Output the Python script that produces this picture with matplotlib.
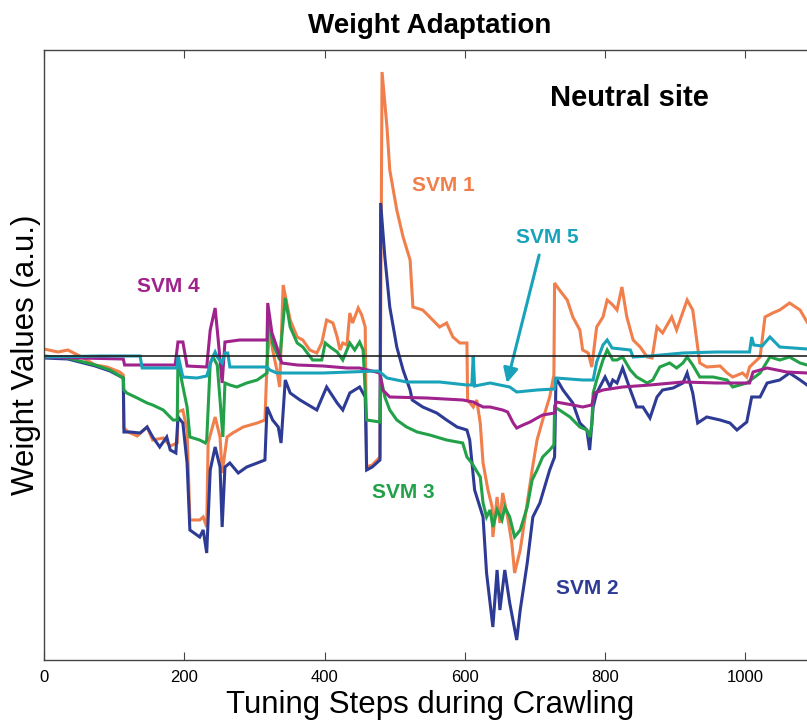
import matplotlib
matplotlib.use("Agg")
import matplotlib.pyplot as plt
from matplotlib import font_manager

# pick a Helvetica-like family (narrow one for the tick labels if present)
names = {f.name for f in font_manager.fontManager.ttflist}
regular = "Liberation Sans" if "Liberation Sans" in names else "DejaVu Sans"
narrow = "Liberation Sans Narrow" if "Liberation Sans Narrow" in names else regular
plt.rcParams["font.family"] = [regular, "DejaVu Sans"]

# Data (tuning step, weight value in a.u.)
svm1_x = [0, 20, 34, 51, 73, 90, 108, 113, 114, 120, 133, 147, 155, 170, 180, 190, 191, 198, 204, 208,
          222, 227, 232, 234, 244, 251, 254, 261, 269, 284, 304, 315, 318, 322, 326, 332, 336, 341, 351, 361,
          369, 379, 389, 396, 403, 412, 418, 422, 426, 432, 436, 440, 448, 453, 458, 460, 468, 479, 482, 489,
          493, 503, 512, 522, 526, 540, 550, 564, 574, 583, 593, 603, 604, 612, 617, 622, 626, 633, 639, 640,
          646, 650, 654, 661, 667, 671, 679, 689, 696, 703, 711, 721, 727, 728, 735, 746, 754, 764, 768, 776,
          781, 788, 797, 803, 811, 817, 824, 831, 840, 850, 860, 867, 874, 882, 895, 902, 917, 925, 935, 945,
          964, 974, 982, 996, 1002, 1006, 1021, 1028, 1039, 1049, 1063, 1078, 1088]
svm1_y = [0.07, 0.04, 0.06, 0.00, -0.09, -0.11, -0.16, -0.19, -0.72, -0.76, -0.80, -0.71, -0.84, -0.82, -0.90, -0.87, -0.56, -0.54, -0.74, -1.64,
          -1.64, -1.61, -1.71, -0.87, -0.61, -0.81, -1.17, -0.81, -0.77, -0.71, -0.67, -0.64, -0.07, 0.26, 0.06, -0.14, -0.31, 0.71, 0.36, 0.19,
          0.16, 0.06, 0.03, 0.13, 0.36, 0.33, 0.19, 0.06, 0.13, 0.11, 0.43, 0.33, 0.48, 0.41, 0.29, -1.11, -1.09, -1.01, 2.84, 2.29,
          1.86, 1.46, 1.19, 0.96, 0.49, 0.46, 0.39, 0.29, 0.33, 0.19, 0.13, 0.13, -0.44, -0.51, -0.44, -0.67, -1.07, -1.34, -1.51, -1.81,
          -1.41, -1.67, -1.37, -1.61, -1.87, -2.17, -1.94, -1.47, -1.14, -0.84, -0.64, -0.41, -0.19, 0.73, 0.66, 0.56, 0.39, 0.26, 0.06, 0.03,
          -0.11, 0.29, 0.39, 0.56, 0.51, 0.46, 0.69, 0.39, 0.16, 0.09, -0.01, -0.02, 0.29, 0.23, 0.39, 0.26, 0.56, 0.46, -0.07, -0.11,
          -0.10, -0.17, -0.21, -0.17, -0.21, -0.11, -0.01, 0.39, 0.43, 0.46, 0.53, 0.46, 0.34]

svm2_x = [0, 34, 73, 94, 113, 114, 123, 137, 147, 155, 165, 175, 180, 188, 191, 198, 204, 208, 222, 227,
          232, 237, 244, 251, 254, 258, 265, 277, 289, 304, 315, 318, 326, 334, 338, 344, 351, 365, 389, 403,
          418, 426, 436, 450, 458, 460, 468, 479, 480, 486, 493, 503, 512, 522, 525, 540, 560, 574, 589, 603,
          607, 614, 626, 631, 640, 646, 650, 657, 664, 674, 679, 689, 697, 707, 721, 728, 730, 740, 754, 764,
          774, 778, 783, 788, 800, 807, 811, 817, 825, 836, 845, 854, 864, 874, 882, 897, 911, 917, 925, 932,
          945, 964, 978, 988, 1002, 1009, 1021, 1031, 1049, 1063, 1078, 1088]
svm2_y = [-0.02, -0.03, -0.10, -0.15, -0.22, -0.76, -0.76, -0.77, -0.71, -0.81, -0.91, -0.81, -0.94, -0.97, -0.61, -0.67, -1.07, -1.74, -1.81, -1.74,
          -1.97, -1.14, -0.91, -1.11, -1.71, -1.11, -1.07, -1.17, -1.11, -1.07, -1.04, -0.51, -0.64, -0.71, -0.87, -0.24, -0.37, -0.44, -0.54, -0.31,
          -0.47, -0.54, -0.37, -0.31, -0.41, -1.14, -1.11, -1.04, 1.53, 0.99, 0.49, 0.09, -0.14, -0.34, -0.44, -0.51, -0.57, -0.64, -0.71, -0.74,
          -0.84, -1.34, -1.61, -2.17, -2.71, -2.14, -2.54, -2.14, -2.47, -2.84, -2.54, -2.07, -1.61, -1.47, -1.14, -1.01, -0.22, -0.34, -0.47, -0.67,
          -0.74, -0.94, -0.51, -0.37, -0.21, -0.31, -0.24, -0.27, -0.12, -0.34, -0.51, -0.51, -0.62, -0.41, -0.34, -0.32, -0.27, -0.17, -0.37, -0.67,
          -0.61, -0.64, -0.67, -0.74, -0.66, -0.41, -0.41, -0.27, -0.24, -0.17, -0.24, -0.29]

svm3_x = [0, 34, 73, 94, 113, 114, 118, 133, 147, 155, 170, 184, 190, 191, 197, 204, 208, 222, 230, 232,
          237, 241, 247, 251, 255, 258, 265, 275, 289, 304, 318, 319, 326, 336, 344, 351, 361, 369, 383, 396,
          401, 408, 418, 426, 436, 443, 450, 455, 460, 479, 480, 486, 493, 503, 517, 532, 550, 574, 597, 603,
          610, 622, 626, 631, 636, 640, 646, 653, 657, 664, 671, 679, 689, 696, 703, 711, 721, 727, 728, 735,
          750, 764, 774, 778, 781, 783, 788, 797, 803, 811, 817, 825, 836, 845, 860, 868, 878, 892, 902, 911,
          917, 925, 935, 954, 974, 982, 1002, 1021, 1035, 1049, 1063, 1078, 1088]
svm3_y = [0.00, -0.02, -0.09, -0.14, -0.22, -0.34, -0.37, -0.42, -0.47, -0.49, -0.54, -0.64, -0.64, -0.02, -0.27, -0.51, -0.81, -0.84, -0.87, -0.84,
          -0.07, -0.01, -0.09, -0.44, -0.81, -0.27, -0.29, -0.31, -0.27, -0.24, -0.17, 0.43, 0.13, -0.04, 0.58, 0.29, 0.13, 0.09, -0.04, -0.04,
          0.13, 0.09, 0.04, -0.04, 0.13, 0.06, 0.14, 0.06, -0.64, -0.66, -0.21, -0.41, -0.54, -0.64, -0.71, -0.76, -0.79, -0.84, -0.87, -1.01,
          -1.07, -1.21, -1.47, -1.61, -1.54, -1.71, -1.54, -1.64, -1.51, -1.61, -1.81, -1.74, -1.51, -1.24, -1.14, -1.01, -0.94, -0.89, -0.51, -0.54,
          -0.61, -0.71, -0.74, -0.81, -0.69, -0.37, -0.24, -0.04, 0.06, -0.04, -0.04, -0.01, -0.14, -0.21, -0.27, -0.24, -0.11, -0.07, -0.12, -0.07,
          -0.01, -0.09, -0.21, -0.21, -0.24, -0.31, -0.27, -0.17, -0.01, -0.04, -0.01, -0.07, -0.09]

svm4_x = [0, 51, 113, 115, 187, 191, 198, 204, 232, 237, 244, 248, 254, 258, 279, 318, 319, 325, 332, 339,
          361, 398, 432, 450, 479, 483, 493, 546, 597, 612, 626, 636, 654, 661, 669, 674, 683, 693, 703, 711,
          728, 730, 754, 768, 781, 785, 797, 825, 864, 911, 959, 1006, 1011, 1031, 1059, 1088]
svm4_y = [-0.01, -0.02, -0.03, -0.09, -0.09, 0.14, 0.14, -0.10, -0.11, 0.26, 0.48, 0.19, -0.27, 0.14, 0.16, 0.16, 0.53, 0.23, 0.09, -0.07,
          -0.09, -0.10, -0.12, -0.12, -0.17, -0.34, -0.41, -0.42, -0.44, -0.46, -0.51, -0.51, -0.54, -0.56, -0.67, -0.72, -0.69, -0.66, -0.62, -0.59,
          -0.57, -0.46, -0.49, -0.51, -0.49, -0.37, -0.34, -0.31, -0.29, -0.26, -0.27, -0.27, -0.16, -0.12, -0.16, -0.17]

svm5_x = [0, 80, 137, 140, 190, 191, 198, 218, 232, 239, 244, 248, 254, 258, 262, 265, 318, 322, 332, 398,
          436, 475, 479, 489, 517, 564, 603, 610, 612, 614, 636, 664, 674, 703, 728, 730, 768, 783, 788, 797,
          803, 810, 836, 840, 864, 911, 959, 1006, 1009, 1012, 1024, 1035, 1049, 1088]
svm5_y = [-0.01, 0.00, 0.00, -0.12, -0.12, 0.01, -0.21, -0.22, -0.20, -0.04, 0.04, -0.02, -0.07, 0.03, 0.03, -0.11, -0.11, -0.14, -0.17, -0.17,
          -0.16, -0.15, -0.16, -0.22, -0.26, -0.26, -0.29, -0.29, 0.00, -0.30, -0.27, -0.31, -0.36, -0.34, -0.33, -0.22, -0.24, -0.24, -0.06, 0.11,
          0.16, 0.08, 0.06, -0.01, 0.00, 0.03, 0.04, 0.04, 0.19, 0.11, 0.10, 0.19, 0.09, 0.07]

c_orange = "#f07f4b"
c_blue = "#2d3b95"
c_green = "#22a148"
c_purple = "#a0228c"
c_cyan = "#19a3ba"

fig = plt.figure(figsize=(8.07, 7.2), dpi=100)
# axes run past the right edge like the cropped original
ax = fig.add_axes([44 / 807, 60 / 720, 0.956, 610 / 720])

lw = 2.2
ax.plot(svm1_x, svm1_y, color=c_orange, lw=lw, solid_joinstyle="miter")
ax.plot(svm2_x, svm2_y, color=c_blue, lw=lw, solid_joinstyle="miter")
ax.plot(svm3_x, svm3_y, color=c_green, lw=lw, solid_joinstyle="miter")
ax.plot(svm4_x, svm4_y, color=c_purple, lw=lw, solid_joinstyle="miter")
ax.plot(svm5_x, svm5_y, color=c_cyan, lw=lw, solid_joinstyle="miter")
ax.axhline(0, color="#222222", lw=1.2, zorder=5)

ax.set_xlim(0, 1100)
ax.set_ylim(-3.04, 3.06)
ax.set_xticks([0, 200, 400, 600, 800, 1000])
ax.set_yticks([])
ax.tick_params(axis="x", direction="in", length=6, top=True, labelsize=12,
               color="#444444", pad=7)
for lab in ax.get_xticklabels():
    lab.set_fontfamily(narrow)
for s in ax.spines.values():
    s.set_color("#444444")
    s.set_linewidth(1.0)

ax.set_title("Weight Adaptation", fontsize=20, fontweight="bold", pad=12)
ax.set_xlabel("Tuning Steps during Crawling", fontsize=22.5, labelpad=4)
ax.set_ylabel("Weight Values (a.u.)", fontsize=22.5, labelpad=2)

lab_kw = dict(fontsize=15, fontweight="bold", ha="center", va="center")
ax.text(835, 2.58, "Neutral site", fontsize=21, fontweight="bold", ha="center", va="center")
ax.text(569, 1.70, "SVM 1", color=c_orange, **lab_kw)
ax.text(717, 1.18, "SVM 5", color=c_cyan, **lab_kw)
ax.text(177, 0.69, "SVM 4", color=c_purple, **lab_kw)
ax.text(512, -1.36, "SVM 3", color=c_green, **lab_kw)
ax.text(774, -2.33, "SVM 2", color=c_blue, **lab_kw)
ax.annotate("", xy=(660, -0.27), xytext=(706, 1.01),
            arrowprops=dict(arrowstyle="-|>", color=c_cyan, lw=2.2,
                            mutation_scale=22, shrinkA=0, shrinkB=0))

fig.savefig("out.png", dpi=100)
